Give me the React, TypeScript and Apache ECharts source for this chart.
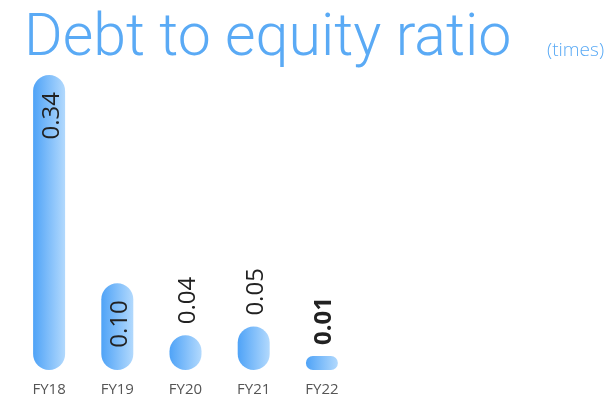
import React, { useEffect, useRef } from "react";
import * as echarts from "echarts";

const categories = ["FY18", "FY19", "FY20", "FY21", "FY22"];
const values = [0.34, 0.1, 0.04, 0.05, 0.01];
const labelInside = [true, true, false, false, false];
const labelBold = [false, false, false, false, true];

export default function App() {
  const ref = useRef<HTMLDivElement>(null);
  useEffect(() => {
    const chart = echarts.init(ref.current!, null, { renderer: "svg" });
    const grad = new echarts.graphic.LinearGradient(0, 0, 1, 0, [
      { offset: 0, color: "#4fa3f7" },
      { offset: 1, color: "#b2d9fd" },
    ]);
    chart.setOption({
      animation: false,
      title: [
        {
          text: "Debt to equity ratio",
          left: 24,
          top: 4,
          padding: 0,
          textStyle: {
            fontFamily: "Roboto",
            fontWeight: 300,
            fontSize: 59,
            lineHeight: 60,
            color: "#5aaaf5",
          },
        },
        {
          text: "(times)",
          left: 542,
          top: 34,
          textStyle: {
            fontFamily: "Open Sans",
            fontWeight: 300,
            fontSize: 19,
            color: "#5aaaf5",
          },
        },
      ],
      grid: { left: 15, right: 254, top: 75, bottom: 30, containLabel: false },
      xAxis: {
        type: "category",
        data: categories,
        axisLine: { show: false },
        axisTick: { show: false },
        axisLabel: {
          fontFamily: "Open Sans",
          fontSize: 15,
          color: "#555",
          margin: 10,
        },
      },
      yAxis: {
        type: "value",
        min: 0,
        max: 0.34,
        show: false,
        splitLine: { show: false },
      },
      series: [
        {
          type: "bar",
          barWidth: 32,
          barMinHeight: 14,
          data: values.map((v, i) => ({
            value: v,
            label: {
              show: true,
              rotate: 90,
              position: labelInside[i] ? "insideTop" : "top",
              align: labelInside[i] ? "right" : "left",
              verticalAlign: "middle",
              distance: labelInside[i] ? 17 : 11,
              fontFamily: "Open Sans",
              fontSize: 24,
              fontWeight: labelBold[i] ? "bold" : "normal",
              color: "#222",
              formatter: (p: any) => p.value.toFixed(2),
            },
          })),
          itemStyle: { color: grad, borderRadius: 16 },
        },
      ],
    });
    return () => chart.dispose();
  }, []);
  return (
    <div
      ref={ref}
      style={{ position: "fixed", left: 0, top: 0, width: 610, height: 400 }}
    />
  );
}
